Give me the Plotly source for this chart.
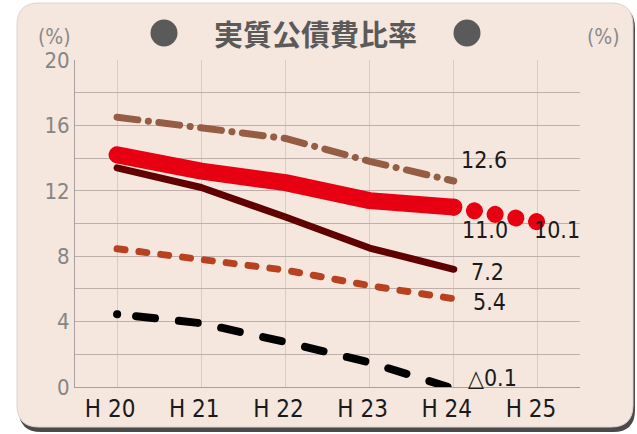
import plotly.graph_objects as go

# ---------------- data ----------------
years = ["H20", "H21", "H22", "H23", "H24", "H25"]
tick_labels = ["H 20", "H 21", "H 22", "H 23", "H 24", "H 25"]
actual_years = years[:5]
real_ratio = [14.2, 13.2, 12.5, 11.4, 11.0]          # 実質公債費比率 (red)
forecast_years = ["H24", "H25"]
real_forecast = [11.0, 10.1]
series_top = [16.5, 15.8, 15.2, 13.8, 12.6]          # brown dash-dot
series_dark = [13.4, 12.2, 10.4, 8.5, 7.2]           # dark brown solid
series_orange = [8.45, 7.8, 7.15, 6.2, 5.4]          # orange dashed
series_black = [4.45, 3.9, 2.75, 1.5, -0.1]          # black dashed
y_tickvals = [0, 2, 4, 6, 8, 10, 12, 14, 16, 18, 20]
y_ticktext = ["0", "", "4", "", "8", "", "12", "", "16", "", "20"]
title_text = "実質公債費比率"

# ---------------- geometry helpers ----------------
W, H = 637, 434
L, R, T, B = 75, 57, 60, 47
PW, PH = W - L - R, H - T - B


def fx(px):
    return (px - L) / PW


def fy(py):
    return (H - B - py) / PH


def rrect(x0, y0, x1, y1, r):
    p = [
        f"M {fx(x0 + r)},{fy(y0)}",
        f"L {fx(x1 - r)},{fy(y0)}",
        f"Q {fx(x1)},{fy(y0)} {fx(x1)},{fy(y0 + r)}",
        f"L {fx(x1)},{fy(y1 - r)}",
        f"Q {fx(x1)},{fy(y1)} {fx(x1 - r)},{fy(y1)}",
        f"L {fx(x0 + r)},{fy(y1)}",
        f"Q {fx(x0)},{fy(y1)} {fx(x0)},{fy(y1 - r)}",
        f"L {fx(x0)},{fy(y0 + r)}",
        f"Q {fx(x0)},{fy(y0)} {fx(x0 + r)},{fy(y0)}",
        "Z",
    ]
    return " ".join(p)


BG = "#f5e6de"
NUMFONT = "DejaVu Sans Condensed, Liberation Sans Narrow, sans-serif"

fig = go.Figure()

fig.add_trace(go.Scatter(x=actual_years, y=series_top, mode="lines",
                         line=dict(color="#955d43", width=7, dash="21px,10.5px,0.1px,10.5px")))
fig.add_trace(go.Scatter(x=actual_years, y=series_dark, mode="lines",
                         line=dict(color="#600000", width=7)))
fig.add_trace(go.Scatter(x=actual_years, y=series_orange, mode="lines",
                         line=dict(color="#b8421f", width=7, dash="8px,14px")))
fig.add_trace(go.Scatter(x=actual_years, y=series_black, mode="lines",
                         line=dict(color="#000000", width=8, dash="0.1px,19px,19px,24px,19px,24px,19px,24px,19px,24px,19px,24px,19px,24px,19px,24px,19px,24px")))
fig.add_trace(go.Scatter(x=forecast_years, y=real_forecast, mode="lines",
                         line=dict(color="#e60012", width=17, dash="0.01px,21px")))
fig.add_trace(go.Scatter(x=actual_years, y=real_ratio, mode="lines",
                         line=dict(color="#e60012", width=17)))

# value labels
labels = [
    (4.06, 13.9, "12.6"),
    (4.08, 9.6, "11.0"),
    (4.93, 9.6, "10.1"),
    (4.18, 7.05, "7.2"),
    (4.20, 5.2, "5.4"),
    (4.14, 0.55, "△0.1"),
]
for x, y, t in labels:
    fig.add_annotation(x=x, y=y, text=t, showarrow=False, xanchor="left", yanchor="middle",
                       font=dict(family=NUMFONT, size=23, color="#1a1a1a"))

# (%) labels
for px in (54, 603):
    fig.add_annotation(x=fx(px), y=fy(37), xref="paper", yref="paper", text="(%)",
                       xanchor="center", yanchor="middle",
                       showarrow=False, font=dict(family=NUMFONT, size=21, color="#8a8a8a"))

# title
fig.add_annotation(x=fx(315), y=fy(33), xref="paper", yref="paper",
                   xanchor="center", yanchor="middle",
                   text=f"<b>{title_text}</b>", showarrow=False,
                   font=dict(family="Noto Sans CJK JP", size=29, color="#5a5a5a"))

shapes = [
    dict(type="path", xref="paper", yref="paper", layer="below",
         path=rrect(19, 6, 635, 432, 22), fillcolor="#4a4a4a", line=dict(width=0)),
    dict(type="path", xref="paper", yref="paper", layer="below",
         path=rrect(17, 3, 633, 427, 22), fillcolor=BG, line=dict(color="#dcd4d0", width=1)),
]
for cx in (164, 467):
    shapes.append(dict(type="circle", xref="paper", yref="paper",
                       x0=fx(cx - 13.5), x1=fx(cx + 13.5), y0=fy(33 + 13.5), y1=fy(33 - 13.5),
                       fillcolor="#5a5a5a", line=dict(width=0)))

fig.update_layout(
    width=W, height=H,
    margin=dict(l=L, r=R, t=T, b=B),
    paper_bgcolor="white",
    plot_bgcolor=BG,
    showlegend=False,
    shapes=shapes,
    xaxis=dict(type="category", categoryorder="array", categoryarray=years,
               range=[-0.5, 5.5], tickvals=years, ticktext=tick_labels,
               showgrid=True, gridcolor="#dccbc2", gridwidth=1,
               showline=True, linecolor="#a8a0a0", linewidth=1, mirror=False,
               ticks="", zeroline=False, ticklabelshift=-7,
               tickfont=dict(family=NUMFONT, size=24, color="#1a1a1a")),
    yaxis=dict(range=[0, 20], tickvals=y_tickvals, ticktext=y_ticktext,
               showgrid=True, gridcolor="#bdb0aa", gridwidth=1, zeroline=False,
               showline=True, linecolor="#a8a0a0", linewidth=1, ticks="",
               tickfont=dict(family=NUMFONT, size=22, color="#858585")),
    yaxis2=dict(range=[0, 20], tickvals=y_tickvals, ticktext=y_ticktext,
                overlaying="y", side="right", showgrid=False, zeroline=False,
                showline=True, linecolor="#a8a0a0", linewidth=1, ticks="",
                tickfont=dict(family=NUMFONT, size=22, color="#858585")),
)

post = """
document.querySelectorAll('path.js-line').forEach(function(p){
  p.style.strokeLinecap='round'; p.style.strokeLinejoin='round';
});
"""
fig.write_html("out.html", post_script=post)
